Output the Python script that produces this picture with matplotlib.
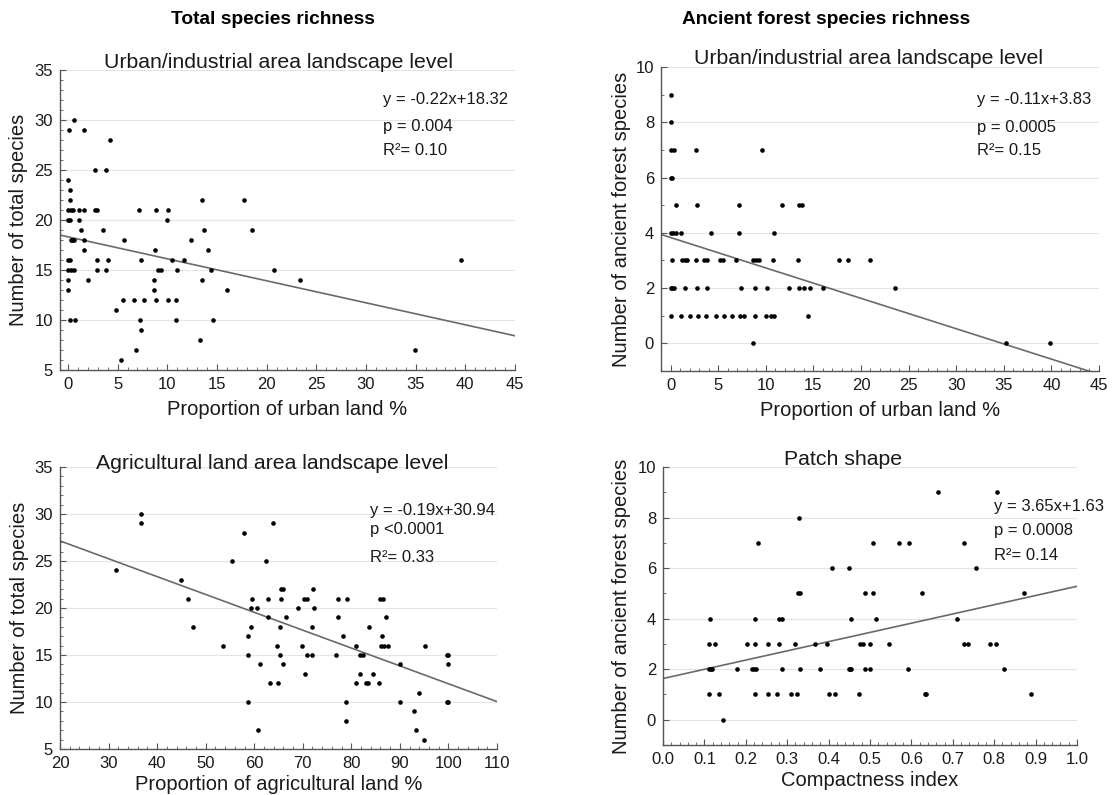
import matplotlib
matplotlib.use("Agg")
import matplotlib.pyplot as plt
from matplotlib.ticker import MultipleLocator
import numpy as np

plt.rcParams['font.family'] = ['Liberation Sans', 'DejaVu Sans']

# top-left: total species vs urban land
urban_x = [0.07, 0.57, 1.6, 4.2, 2.7, 3.8, 0, 0.2, 0.2,
           0, 0.3, 0.5, 1.1, 1.6, 2.7, 2.9, 7.2, 8.9, 10.1,
           0, 0.2, 1.1, 10.0,
           1.3, 3.5, 13.7, 18.5,
           0.3, 0.4, 0.6, 1.6, 5.6, 12.4,
           1.6, 8.8, 14.1,
           0, 0.2, 2.9, 4.0, 7.4, 10.5, 11.7,
           0, 0.3, 0.6, 2.9, 3.8, 9.1, 9.4, 11.0, 14.4, 20.7,
           0, 2.0, 8.7, 13.5, 23.4,
           0, 8.7, 16.0,
           5.5, 6.6, 7.7, 8.9, 10.1, 10.9,
           4.8,
           0.2, 0.7, 7.3, 10.9, 14.6,
           7.4, 13.3, 6.9, 34.9, 5.3,
           13.5, 17.7, 39.6]
urban_total = [29, 30, 29, 28, 25, 25, 24, 23, 22,
               21, 21, 21, 21, 21, 21, 21, 21, 21, 21,
               20, 20, 20, 20,
               19, 19, 19, 19,
               18, 18, 18, 18, 18, 18,
               17, 17, 17,
               16, 16, 16, 16, 16, 16, 16,
               15, 15, 15, 15, 15, 15, 15, 15, 15, 15,
               14, 14, 14, 14, 14,
               13, 13, 13,
               12, 12, 12, 12, 12, 12,
               11,
               10, 10, 10, 10, 10,
               9, 8, 7, 7, 6,
               22, 22, 16]

# top-right: ancient forest species vs urban land
urban_x2 = [0, 0, 0, 0.4, 2.7, 9.6, 0, 0.2,
            0.6, 2.8, 7.2, 11.7, 13.5, 13.8,
            0, 0.3, 0.6, 1.05, 4.2, 7.2, 10.9,
            0.14, 1.2, 1.5, 1.7, 2.7, 3.5, 3.8, 5.2, 5.5, 6.9, 8.7, 9.0, 9.3, 10.8, 13.4, 17.7, 18.6, 20.9,
            0, 0.2, 0.4, 1.5, 2.8, 3.8, 7.4, 8.9, 10.1, 12.4, 13.5, 14.0, 14.6, 16.0, 23.6,
            0, 1.05, 2.0, 2.9, 3.7, 4.8, 5.6, 6.5, 7.3, 7.7, 8.9, 10.0, 10.5, 10.9, 14.4,
            8.7, 35.2, 39.9]
urban_ancient = [9, 8, 7, 7, 7, 7, 6, 6,
                 5, 5, 5, 5, 5, 5,
                 4, 4, 4, 4, 4, 4, 4,
                 3, 3, 3, 3, 3, 3, 3, 3, 3, 3, 3, 3, 3, 3, 3, 3, 3, 3,
                 2, 2, 2, 2, 2, 2, 2, 2, 2, 2, 2, 2, 2, 2, 2,
                 1, 1, 1, 1, 1, 1, 1, 1, 1, 1, 1, 1, 1, 1, 1,
                 0, 0, 0]

# bottom-left: total species vs agricultural land
agri_x = [31.6, 36.7, 36.7, 44.9, 46.3, 47.3, 53.6, 55.4, 57.9,
          58.7, 58.7, 58.7, 59.4, 59.5, 59.4, 60.5, 60.8, 61.2,
          62.5, 62.8, 62.8, 63.3, 63.9, 64.6, 64.9, 65.3, 65.3,
          65.5, 66.0, 65.5, 66.0, 66.6, 69.0,
          69.9, 70.5, 70.3, 70.9, 72.2, 72.3, 72.0, 70.9, 71.8,
          76.8, 77.3, 79.2, 77.3, 78.3, 79.0, 78.8,
          81.0, 81.7, 82.3, 81.8, 81.0, 83.1, 83.4, 84.4, 83.6, 85.6,
          86.0, 86.5, 87.2, 86.4, 86.1, 86.8, 87.6,
          90.1, 90.1, 93.0, 94.0, 93.3, 95.0, 95.2,
          99.6, 100.0, 100.0, 99.6, 100.0]
agri_total = [24, 30, 29, 23, 21, 18, 16, 25, 28,
              17, 15, 10, 20, 21, 18, 20, 7, 14,
              25, 21, 19, 12, 29, 16, 12, 15, 18,
              22, 22, 21, 14, 19, 20,
              16, 13, 21, 21, 22, 20, 18, 15, 15,
              15, 21, 21, 19, 17, 10, 8,
              16, 15, 15, 13, 12, 12, 12, 13, 18, 12,
              21, 21, 19, 17, 16, 16, 16,
              14, 10, 9, 11, 7, 6, 16,
              15, 15, 14, 10, 10]

# bottom-right: ancient forest species vs compactness
compact_x = [0.113, 0.111, 0.126, 0.111, 0.115, 0.119, 0.111, 0.136, 0.145,
             0.179, 0.203, 0.223, 0.215, 0.221, 0.224, 0.223, 0.223, 0.229,
             0.253, 0.253, 0.276, 0.281, 0.279, 0.287, 0.287, 0.310, 0.323,
             0.318, 0.328, 0.326, 0.331, 0.331, 0.368, 0.379, 0.397, 0.408,
             0.400, 0.415, 0.449, 0.454, 0.449, 0.452, 0.455, 0.473, 0.476,
             0.483, 0.500, 0.487, 0.507, 0.507, 0.489, 0.500, 0.515,
             0.664, 0.807, 0.569, 0.595, 0.728, 0.757, 0.626, 0.871, 0.709,
             0.545, 0.728, 0.736, 0.791, 0.805, 0.591, 0.823, 0.632, 0.636, 0.888]
compact_ancient = [4, 3, 3, 2, 2, 2, 1, 1, 0,
                   2, 3, 3, 2, 2, 2, 4, 1, 7,
                   3, 1, 1, 3, 4, 4, 2, 1, 1,
                   3, 8, 5, 5, 2, 3, 2, 3, 6,
                   1, 1, 6, 4, 2, 2, 2, 1, 3,
                   3, 3, 5, 5, 7, 2, 2, 4,
                   9, 9, 7, 7, 7, 6, 5, 5, 4,
                   3, 3, 3, 3, 3, 2, 2, 1, 1, 1]

# regression coefficients (slope, intercept) and stats text
fits = [(-0.22, 18.32), (-0.11, 3.83), (-0.19, 30.94), (3.65, 1.63)]
stats = [["y = -0.22x+18.32", "p = 0.004", "R\u00b2= 0.10"],
         ["y = -0.11x+3.83", "p = 0.0005", "R\u00b2= 0.15"],
         ["y = -0.19x+30.94", "p <0.0001", "R\u00b2= 0.33"],
         ["y = 3.65x+1.63", "p = 0.0008", "R\u00b2= 0.14"]]
titles = ["Urban/industrial area landscape level", "Urban/industrial area landscape level",
          "Agricultural land area landscape level", "Patch shape"]
xlabels = ["Proportion of urban land %", "Proportion of urban land %",
           "Proportion of agricultural land %", "Compactness index"]
ylabels = ["Number of total species", "Number of ancient forest species",
           "Number of total species", "Number of ancient forest species"]

W, H = 1116, 795
fig = plt.figure(figsize=(W / 100, H / 100), dpi=100)

def px_axes(l, t, r, b):
    return fig.add_axes([l / W, 1 - b / H, (r - l) / W, (b - t) / H])

axs = [px_axes(60, 70, 515, 370), px_axes(661, 67, 1099, 371),
       px_axes(60, 467, 497, 749), px_axes(663, 467, 1077, 745)]

xs = [urban_x, urban_x2, agri_x, compact_x]
ys = [urban_total, urban_ancient, agri_total, compact_ancient]
xlims = [(-0.8, 45), (-1, 45), (20, 110), (0, 1.0)]
ylims = [(5, 35), (-1, 10), (5, 35), (-1, 10)]
xmaj = [5, 5, 10, 0.1]
xmin = [1, 1, 2, 0.02]
ymaj = [5, 2, 5, 2]
ymin = [1, 1, 1, 1]
stat_pos = [(0.71, [0.903, 0.813, 0.733]), (0.721, [0.893, 0.80, 0.726]),
            (0.709, [0.845, 0.779, 0.68]), (0.80, [0.857, 0.771, 0.683])]
ylab_x = [-0.070, -0.068, -0.072, -0.077]
xpad = [6, 6, 3, 3]

for i, ax in enumerate(axs):
    ax.set_xlim(*xlims[i])
    ax.set_ylim(*ylims[i])
    ax.xaxis.set_major_locator(MultipleLocator(xmaj[i]))
    ax.xaxis.set_minor_locator(MultipleLocator(xmin[i]))
    ax.yaxis.set_major_locator(MultipleLocator(ymaj[i]))
    ax.yaxis.set_minor_locator(MultipleLocator(ymin[i]))
    if i == 3:
        ax.xaxis.set_major_formatter(matplotlib.ticker.FormatStrFormatter('%.1f'))
    ax.grid(axis='y', which='major', color='#e4e4e4', lw=0.8, zorder=0)
    for s in ['top', 'right']:
        ax.spines[s].set_visible(False)
    for s in ['left', 'bottom']:
        ax.spines[s].set_color('#555555')
        ax.spines[s].set_linewidth(1.0)
    ax.tick_params(which='both', direction='in', colors='#555555', labelcolor='#1a1a1a', labelsize=12)
    ax.tick_params(which='major', length=4, pad=5)
    ax.tick_params(which='minor', length=2.5)

    ax.scatter(xs[i], ys[i], s=11, color='black', zorder=3, linewidths=0)
    a, b = fits[i]
    lx = np.array(xlims[i])
    ax.plot(lx, a * lx + b, color='#6a6a6a', lw=1.2, zorder=2)

    sx, sys_ = stat_pos[i]
    for txt, yy in zip(stats[i], sys_):
        ax.text(sx, yy, txt, transform=ax.transAxes, ha='left', va='center', fontsize=12, color='#1a1a1a')

    ax.set_xlabel(xlabels[i], fontsize=14.5, color='#1a1a1a', labelpad=xpad[i])
    ax.set_ylabel(ylabels[i], fontsize=14.5, color='#1a1a1a')
    ax.yaxis.set_label_coords(ylab_x[i], 0.5)

# panel titles placed at their pixel positions
title_pos = [(278, 68), (869, 64), (272, 469), (843, 465)]
for t, (cx, by) in zip(titles, title_pos):
    fig.text(cx / W, 1 - by / H, t, ha='center', va='baseline', fontsize=15.3, color='#1a1a1a')

fig.text(273 / W, 1 - 19 / H, "Total species richness", ha='center', va='center',
         fontsize=13.8, fontweight='bold')
fig.text(826 / W, 1 - 19 / H, "Ancient forest species richness", ha='center', va='center',
         fontsize=13.8, fontweight='bold')

fig.savefig("out.png", dpi=100, facecolor='white')
